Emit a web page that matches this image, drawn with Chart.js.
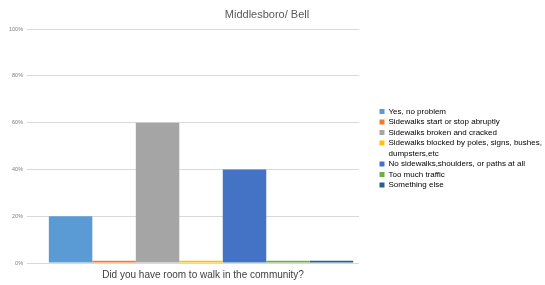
<!DOCTYPE html>
<html>
<head>
<meta charset="utf-8">
<script src="https://cdn.jsdelivr.net/npm/chart.js@4"></script>
<style>
  html, body { margin: 0; padding: 0; background: #fff; }
  #wrap { width: 545px; height: 285px; }
</style>
</head>
<body>
<div id="wrap"><canvas id="chart"></canvas></div>
<script>
// data
const category = 'Did you have room to walk in the community?';
const answers = [
    'Yes, no problem',
    'Sidewalks start or stop abruptly',
    'Sidewalks broken and cracked',
    'Sidewalks blocked by poles, signs, bushes, dumpsters,etc',
    'No sidewalks,shoulders, or paths at all',
    'Too much traffic',
    'Something else'
];
const shares = [20, 1, 60, 1, 40, 1, 1];
const yTicks = [0, 20, 40, 60, 80, 100];

// Excel default palette
const colors = ['#5b9bd5', '#ed7d31', '#a5a5a5', '#ffc000', '#4472c4', '#70ad47', '#255e91'];
const FONT = "'Liberation Sans', Arial, sans-serif";

// legend sits to the right of the plot, a little away from it
const LEGEND_WIDTH = 186;
const LEGEND_X = 377;
const LEGEND_TOP = 105;
// the bar group in the original sits a bit right of the plot centre
const BAR_SHIFT = 8;
const XTITLE_SHIFT = 10;
const TITLE_SHIFT = -8;

const layoutTweaks = {
    id: 'layoutTweaks',
    afterInit(chart) {
        const lg = chart.legend;
        const fit = lg.fit.bind(lg);
        lg.fit = function () {
            fit();
            this.width = LEGEND_WIDTH;
        };
    },
    afterLayout(chart) {
        const lg = chart.legend;
        lg.left = LEGEND_X;
        lg.right = LEGEND_X + lg.width;
        const h = lg.bottom - lg.top;
        lg.top = LEGEND_TOP;
        lg.bottom = LEGEND_TOP + h;

        const xs = chart.scales.x;
        xs._startPixel += BAR_SHIFT;
        xs.left += 2 * XTITLE_SHIFT;
        xs.bottom -= 1;

        const tb = chart.titleBlock;
        tb.left += 2 * TITLE_SHIFT;
    }
};

const ctx = document.getElementById('chart').getContext('2d');

new Chart(ctx, {
    type: 'bar',
    data: {
        labels: [category],
        datasets: answers.map((name, i) => ({
            label: name,
            data: [shares[i]],
            backgroundColor: colors[i],
            borderWidth: 0,
            categoryPercentage: 0.917,
            barPercentage: 1
        }))
    },
    plugins: [layoutTweaks],
    options: {
        responsive: true,
        maintainAspectRatio: false,
        animation: false,
        layout: { padding: { left: 5, right: 0, top: 0, bottom: 0 } },
        plugins: {
            title: {
                display: true,
                text: 'Middlesboro/ Bell',
                color: '#595959',
                font: { size: 11, family: FONT, weight: 'normal' },
                padding: { top: 8, bottom: 8 }
            },
            legend: {
                position: 'right',
                align: 'start',
                labels: {
                    boxWidth: 5,
                    boxHeight: 5,
                    padding: 2.5,
                    color: '#595959',
                    font: { size: 8, family: FONT },
                    generateLabels: (chart) => {
                        const items = [];
                        answers.forEach((name, i) => {
                            // the long answer wraps onto a second line
                            if (name.includes('dumpsters')) {
                                items.push({ text: 'Sidewalks blocked by poles, signs, bushes,', fillStyle: colors[i], strokeStyle: colors[i], lineWidth: 0, datasetIndex: i });
                                items.push({ text: 'dumpsters,etc', fillStyle: 'rgba(0,0,0,0)', strokeStyle: 'rgba(0,0,0,0)', lineWidth: 0, datasetIndex: i });
                            } else {
                                items.push({ text: name, fillStyle: colors[i], strokeStyle: colors[i], lineWidth: 0, datasetIndex: i });
                            }
                        });
                        return items;
                    }
                },
                onClick: () => {}
            },
            tooltip: { enabled: false }
        },
        scales: {
            x: {
                grid: { display: false },
                border: { display: false },
                ticks: { display: false },
                title: {
                    display: true,
                    text: category,
                    color: '#404040',
                    font: { size: 10, family: FONT, lineHeight: 1 },
                    padding: { top: 0, bottom: 4 }
                }
            },
            y: {
                min: 0,
                max: 100,
                afterBuildTicks: (axis) => { axis.ticks = yTicks.map(v => ({ value: v })); },
                grid: { color: '#d9d9d9', lineWidth: 1, drawTicks: false },
                border: { display: false },
                ticks: {
                    color: '#808080',
                    font: { size: 5.5, family: FONT },
                    padding: 4,
                    callback: (v) => v + '%'
                }
            }
        }
    }
});
</script>
</body>
</html>
